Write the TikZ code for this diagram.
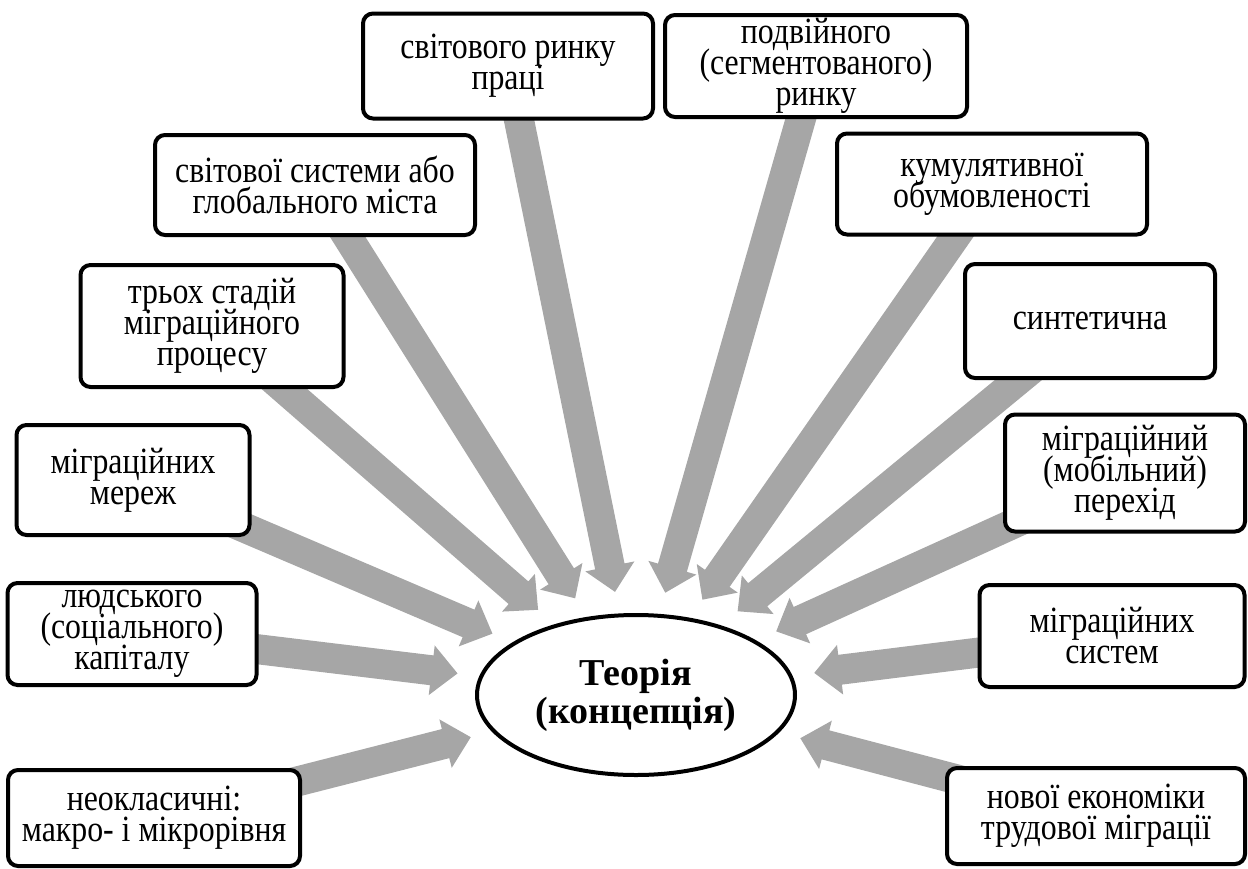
\documentclass[tikz,border=0pt]{standalone}
\usepackage{fontspec}
\setmainfont{Liberation Serif}
\newfontfamily\boxfont[FakeStretch=0.86]{Liberation Serif}
\newcommand{\boxsize}{\boxfont\fontsize{37}{31}\selectfont\lineskiplimit=-100pt\relax}
\usetikzlibrary{calc,shapes.geometric}
\pgfdeclarelayer{bg}
\pgfsetlayers{bg,main}
\definecolor{arrowgray}{HTML}{A6A6A6}

\begin{document}
\begin{tikzpicture}[x=1pt, y=-1pt,
	theory/.style={draw, line width=4pt, rounded corners=10pt, fill=white, align=center, inner sep=0pt,
		font=\boxsize},
	centre/.style={ellipse, draw, line width=4pt, fill=white, align=center, inner sep=0pt,
		minimum width=318pt, minimum height=160pt, font=\bfseries\fontsize{38}{38}\selectfont}]
	\useasboundingbox (0, 0) rectangle (1248, 868);
	% Central ellipse and boxes:
	\node[centre] (ell) at (636, 695){Теорія\\(концепція)};
	\node[theory, minimum width=290pt, minimum height=105pt] (b1) at (508, 66){світового ринку\\праці};
	\node[theory, minimum width=302pt, minimum height=102pt] (b2) at (816, 66){подвійного\\(сегментованого)\\ринку};
	\node[theory, minimum width=320pt, minimum height=100pt] (b3) at (315, 185){світової системи або\\глобального міста};
	\node[theory, minimum width=310pt, minimum height=101pt] (b4) at (992, 184){кумулятивної\\обумовленості};
	\node[theory, minimum width=263pt, minimum height=122pt] (b5) at (212, 326){трьох стадій\\міграційного\\процесу};
	\node[theory, minimum width=250pt, minimum height=114pt] (b6) at (1090, 321){синтетична};
	\node[theory, minimum width=233pt, minimum height=110pt] (b7) at (133, 480){міграційних\\мереж};
	\node[theory, minimum width=240pt, minimum height=117pt] (b8) at (1125, 473){міграційний\\(мобільний)\\перехід};
	\node[theory, minimum width=249pt, minimum height=102pt] (b9) at (132, 634){людського\\(соціального)\\капіталу};
	\node[theory, minimum width=265pt, minimum height=102pt] (b10) at (1112, 636){міграційних\\систем};
	\node[theory, minimum width=292pt, minimum height=96pt] (b11) at (154, 818){неокласичні:\\макро- і мікрорівня};
	\node[theory, minimum width=298pt, minimum height=96pt] (b12) at (1096, 816){нової економіки\\трудової міграції};
	% Block arrows, behind the boxes:
	\begin{pgfonlayer}{bg}
		\foreach \b in {b1, b2, b3, b4, b5, b6, b7, b8, b9, b10, b11, b12}{
			\path (\b.center) -- (ell) coordinate[pos=1] (e);
			\coordinate (tip) at ($(e)!22pt!(\b.center)$);
			\coordinate (hb) at ($(tip)!26pt!(\b.center)$);
			\fill[arrowgray] ($(\b.center)!15pt!90:(tip)$) -- ($(hb)!15pt!-90:(\b.center)$) -- ($(hb)!25pt!-90:(\b.center)$)
				-- (tip) -- ($(hb)!25pt!90:(\b.center)$) -- ($(hb)!15pt!90:(\b.center)$) -- ($(\b.center)!15pt!-90:(tip)$) -- cycle;
		}
	\end{pgfonlayer}
\end{tikzpicture}
\end{document}
